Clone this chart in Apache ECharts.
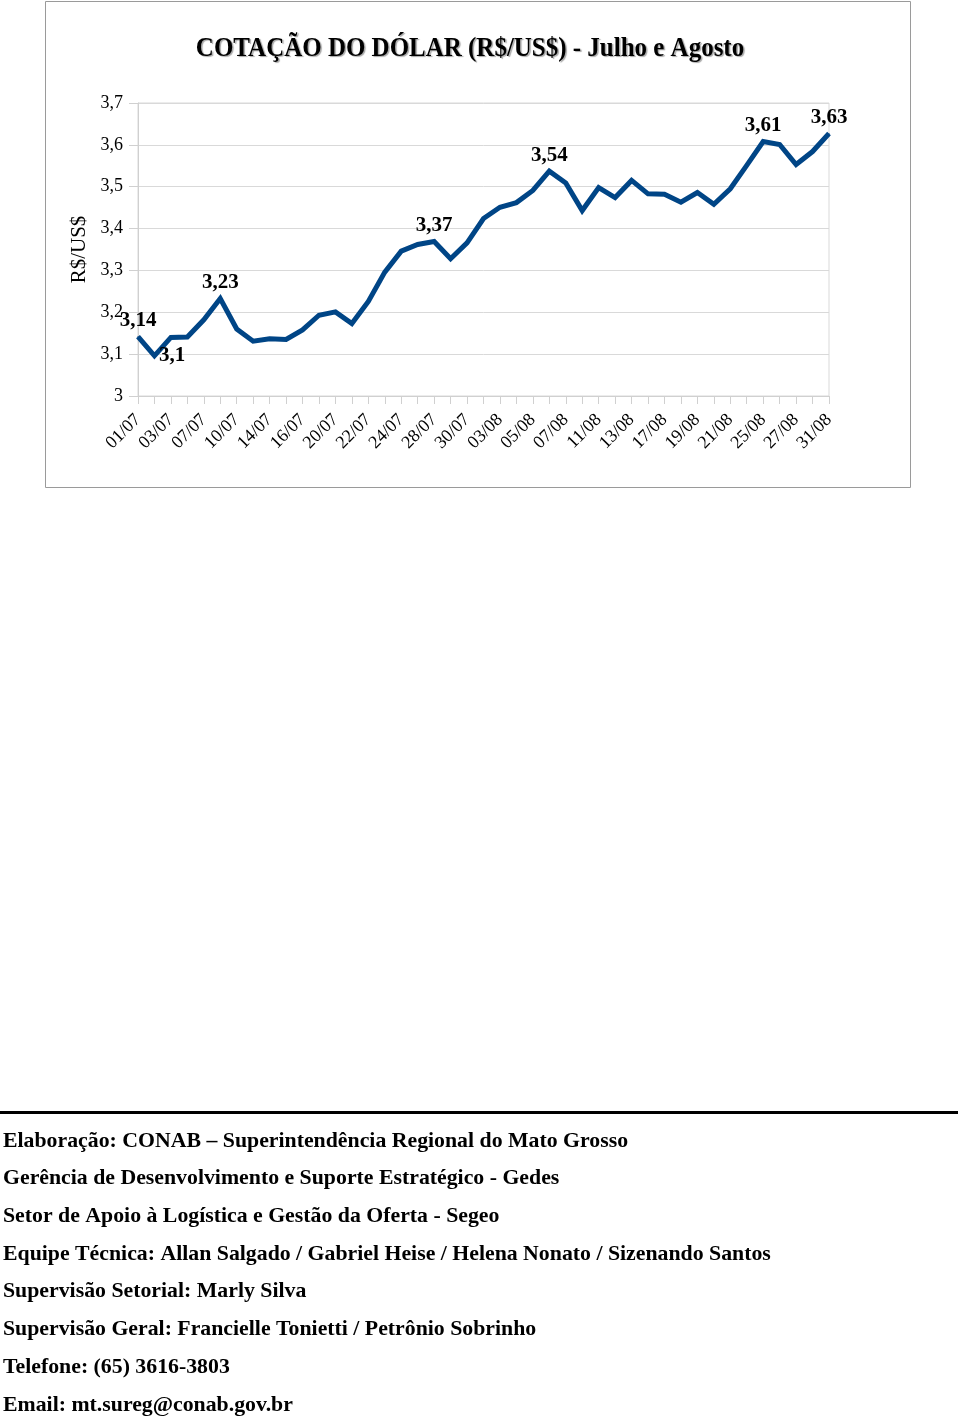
<!DOCTYPE html>
<html>
<head>
<meta charset="utf-8">
<script src="https://cdn.jsdelivr.net/npm/echarts@6/dist/echarts.min.js"></script>
<style>
html,body{margin:0;padding:0;background:#fff;}
#c{width:960px;height:1417px;}
</style>
</head>
<body>
<div id="c"></div>
<script>
// ---- data ----
const title = 'COTAÇÃO DO DÓLAR (R$/US$) - Julho e Agosto';
const yAxisName = 'R$/US$';
const dates = ['01/07','02/07','03/07','06/07','07/07','08/07','10/07','13/07','14/07','15/07','16/07','17/07','20/07','21/07','22/07','23/07','24/07','27/07','28/07','29/07','30/07','31/07','03/08','04/08','05/08','06/08','07/08','10/08','11/08','12/08','13/08','14/08','17/08','18/08','19/08','20/08','21/08','24/08','25/08','26/08','27/08','28/08','31/08'];
const rates = [3.142,3.096,3.140,3.141,3.182,3.233,3.160,3.131,3.137,3.135,3.158,3.193,3.201,3.173,3.226,3.296,3.346,3.362,3.369,3.328,3.366,3.424,3.451,3.462,3.491,3.537,3.509,3.443,3.498,3.474,3.515,3.483,3.482,3.463,3.486,3.458,3.495,3.551,3.608,3.601,3.553,3.584,3.627];
const labeledIdx = [0,1,5,18,25,38,42];
const footerLines = [
  'Elaboração: CONAB – Superintendência Regional do Mato Grosso',
  'Gerência de Desenvolvimento e Suporte Estratégico - Gedes',
  'Setor de Apoio à Logística e Gestão da Oferta - Segeo',
  'Equipe Técnica: Allan Salgado / Gabriel Heise / Helena Nonato / Sizenando Santos',
  'Supervisão Setorial: Marly Silva',
  'Supervisão Geral: Francielle Tonietti / Petrônio Sobrinho',
  'Telefone: (65) 3616-3803',
  'Email: mt.sureg@conab.gov.br'
];

// ---- chart ----
const serif = "'Liberation Serif','DejaVu Serif',serif";
const fmt = v => String(+(+v).toFixed(2)).replace('.', ',');
const seriesData = rates.map((v, i) => {
  const item = { value: v };
  if (labeledIdx.indexOf(i) >= 0) {
    item.label = i === 1
      ? { show: true, position: 'right', distance: 4, offset: [0, 8] }
      : { show: true, position: 'top', distance: 5 };
  }
  return item;
});

const graphics = [
  { type: 'rect', shape: { x: 45.5, y: 1.5, width: 865, height: 486 },
    style: { fill: 'none', stroke: '#9a9a9a', lineWidth: 1 }, z: 0, silent: true },
  { type: 'text', x: 470, y: 49, scaleX: 0.925, originX: 0, originY: 0,
    style: { text: title, font: 'bold 27px ' + serif, fill: '#000', align: 'center', verticalAlign: 'middle',
      textShadowColor: 'rgba(0,0,0,0.35)', textShadowOffsetX: 1.5, textShadowOffsetY: 1.5, textShadowBlur: 1 } },
  { type: 'rect', shape: { x: 0, y: 1111, width: 958, height: 3 }, style: { fill: '#000' } }
];
footerLines.forEach((t, i) => {
  graphics.push({ type: 'text', x: 3, y: 1141 + i * 37.7,
    style: { text: t, font: 'bold 21.8px ' + serif, fill: '#000', align: 'left', verticalAlign: 'middle' } });
});

const chart = echarts.init(document.getElementById('c'), null, { renderer: 'canvas' });
chart.setOption({
  animation: false,
  backgroundColor: '#fff',
  graphic: graphics,
  grid: { left: 138, top: 103, width: 691, height: 293, show: true, borderColor: '#d9d9d9', borderWidth: 1, backgroundColor: 'transparent' },
  xAxis: {
    type: 'category', data: dates, boundaryGap: false,
    axisLine: { show: true, lineStyle: { color: '#d0d0d0', width: 1 } },
    axisTick: { show: true, interval: 0, length: 8, lineStyle: { color: '#d0d0d0' } },
    axisLabel: { interval: 1, rotate: 45, margin: 21, fontFamily: serif, fontSize: 18, color: '#000' },
    splitLine: { show: false }
  },
  yAxis: {
    type: 'value', min: 3, max: 3.7, interval: 0.1,
    name: yAxisName, nameLocation: 'middle', nameGap: 48, nameRotate: 90,
    nameTextStyle: { fontFamily: serif, fontSize: 21, color: '#000' },
    axisLine: { show: true, lineStyle: { color: '#d0d0d0', width: 1 } },
    axisTick: { show: true, length: 9, lineStyle: { color: '#d0d0d0' } },
    axisLabel: { margin: 15, fontFamily: serif, fontSize: 18, color: '#000', padding: [3, 0, 0, 0],
      formatter: v => String(+(+v).toFixed(1)).replace('.', ',') },
    splitLine: { show: true, lineStyle: { color: '#d9d9d9', width: 1 } }
  },
  series: [{
    type: 'line', data: seriesData, showSymbol: true, showAllSymbol: true,
    symbol: 'circle', symbolSize: 1,
    lineStyle: { color: '#004586', width: 5, join: 'miter' },
    itemStyle: { color: '#004586' },
    label: { show: false, fontFamily: serif, fontSize: 21, fontWeight: 'bold', color: '#000',
      formatter: p => fmt(p.value) },
    labelLayout: { hideOverlap: false }
  }]
});
</script>
</body>
</html>
